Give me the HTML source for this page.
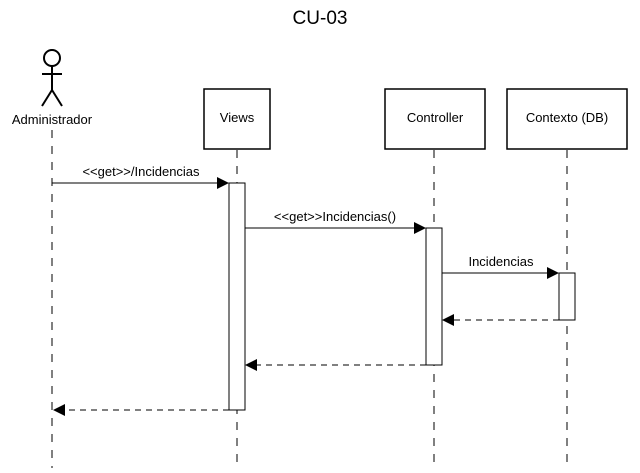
<!DOCTYPE html>
<html><head><style>body{margin:0;background:#fff}</style></head><body>
<svg width="640" height="468" xmlns="http://www.w3.org/2000/svg" font-family="Liberation Sans, sans-serif">
<rect width="640" height="468" fill="#fff"/>
<text x="320" y="24" font-size="19" text-anchor="middle">CU-03</text>
<g stroke="#000" stroke-width="2" fill="none">
<circle cx="52" cy="58" r="8"/>
<line x1="52" y1="66" x2="52" y2="90"/>
<line x1="42" y1="74" x2="62" y2="74"/>
<line x1="52" y1="90" x2="42" y2="106"/>
<line x1="52" y1="90" x2="62" y2="106"/>
</g>
<text x="52" y="124" font-size="13" text-anchor="middle">Administrador</text>
<g stroke="#000" stroke-width="1" stroke-dasharray="8,8">
<line x1="52" y1="130" x2="52" y2="468"/>
<line x1="237" y1="150" x2="237" y2="468"/>
<line x1="434" y1="150" x2="434" y2="468"/>
<line x1="567" y1="150" x2="567" y2="468"/>
</g>
<g stroke="#000" stroke-width="1.5" fill="#fff">
<rect x="204" y="89" width="66" height="60"/>
<rect x="385" y="89" width="100" height="60"/>
<rect x="507" y="89" width="120" height="60"/>
</g>
<g font-size="13" text-anchor="middle">
<text x="237" y="122">Views</text>
<text x="435" y="122">Controller</text>
<text x="567" y="122">Contexto (DB)</text>
</g>
<g stroke="#000" stroke-width="1" fill="#fff">
<rect x="229" y="183" width="16" height="227"/>
<rect x="426" y="228" width="16" height="137"/>
<rect x="559" y="273" width="16" height="47"/>
</g>
<g stroke="#000" stroke-width="1" fill="none">
<line x1="52" y1="183" x2="218" y2="183"/>
<line x1="245" y1="228" x2="415" y2="228"/>
<line x1="442" y1="273" x2="548" y2="273"/>
<g stroke-dasharray="6,5">
<line x1="559" y1="320" x2="454" y2="320"/>
<line x1="426" y1="365" x2="257" y2="365"/>
<line x1="229" y1="410" x2="65" y2="410"/>
</g>
</g>
<g fill="#000">
<polygon points="229,183 217,177 217,189"/>
<polygon points="426,228 414,222 414,234"/>
<polygon points="559,273 547,267 547,279"/>
<polygon points="442,320 454,314 454,326"/>
<polygon points="245,365 257,359 257,371"/>
<polygon points="53,410 65,404 65,416"/>
</g>
<g font-size="13" text-anchor="middle">
<text x="141" y="176">&lt;&lt;get&gt;&gt;/Incidencias</text>
<text x="335" y="221">&lt;&lt;get&gt;&gt;Incidencias()</text>
<text x="501" y="266">Incidencias</text>
</g>
</svg>
</body></html>
